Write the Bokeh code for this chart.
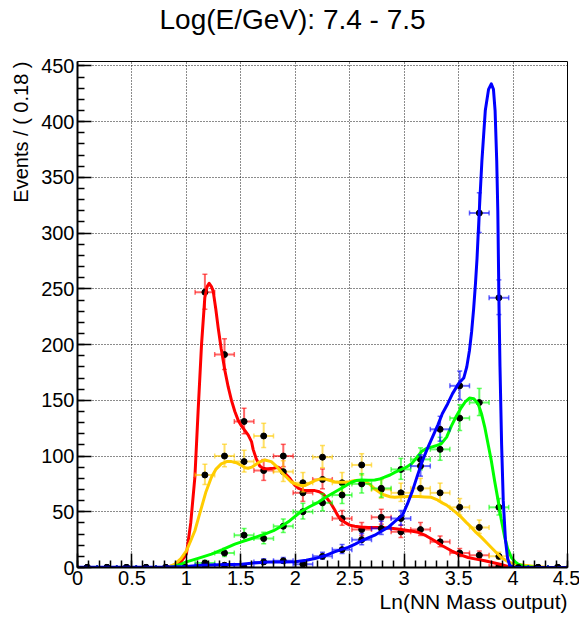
import numpy as np
from bokeh.plotting import figure
from bokeh.models import FixedTicker, Range1d, ColumnDataSource, Title
from bokeh.embed import file_html
from bokeh.resources import INLINE

# ---------------- data ----------------
title_text = "Log(E/GeV): 7.4 - 7.5"
x_axis_title = "Ln(NN Mass output)"
y_axis_title = "Events / ( 0.18 )"

bin_centers = [0.09, 0.27, 0.45, 0.63, 0.81, 0.99, 1.17, 1.35, 1.53, 1.71,
               1.89, 2.07, 2.25, 2.43, 2.61, 2.79, 2.97, 3.15, 3.33, 3.51,
               3.69, 3.87, 4.05, 4.23, 4.41]
bin_half_width = 0.09

counts_red = [0, 0, 0, 0, 0, 0, 247, 191, 131, 87, 100, 67, 79, 44, 34, 45,
              32, 34, 23, 13, 11, 1, 0, 0, 0]
counts_yellow = [0, 0, 0, 0, 0, 0, 83, 100, 95, 118, 86, 76, 99, 76, 92, 70,
                 67, 71, 67, 54, 36, 10, 0, 0, 0]
counts_green = [0, 0, 0, 0, 0, 0, 4, 13, 29, 26, 37, 50, 58, 65, 75, 71,
                88, 97, 106, 134, 148, 54, 0, 0, 0]
counts_blue = [0, 0, 0, 0, 0, 0, 2, 2, 0, 5, 6, 3, 10, 16, 25, 35,
               44, 91, 124, 163, 318, 242, 0, 0, 0]

curve_red_x = [0.0, 0.8, 0.9, 0.95, 1.0, 1.04, 1.078, 1.108, 1.139, 1.169, 1.19,
               1.209, 1.23, 1.246, 1.27, 1.292, 1.32, 1.353, 1.384, 1.414, 1.445,
               1.476, 1.506, 1.536, 1.567, 1.598, 1.613, 1.64, 1.674, 1.71, 1.75,
               1.80, 1.843, 1.873, 1.90, 1.95, 1.995, 2.03, 2.087, 2.18, 2.22,
               2.256, 2.30, 2.33, 2.36, 2.39, 2.42, 2.455, 2.50, 2.546, 2.60,
               2.67, 2.75, 2.82, 2.90, 2.975, 3.05, 3.128, 3.20, 3.28, 3.35,
               3.434, 3.51, 3.587, 3.66, 3.74, 3.82, 3.89, 3.95, 4.0, 4.1, 4.5]
curve_red_y = [0, 0, 2, 5, 12, 40, 81, 141, 200, 242, 252,
               255, 252, 248, 232, 215, 196, 177, 162, 150, 140,
               132, 127, 123, 119, 113, 106, 98, 91, 88.5, 88.5,
               89, 90, 88, 85, 80, 74, 71, 69, 69, 68,
               66, 61, 57, 52, 46.6, 43, 40.5, 38, 37, 36.3,
               36, 35.8, 35.6, 35, 34, 33, 31.6, 28.5, 24, 19.5,
               15, 11.5, 9, 7.5, 6, 4.2, 2.7, 1, 0.2, 0, 0]

curve_yellow_x = [0.0, 0.8, 0.85, 0.894, 0.95, 1.0, 1.04, 1.078, 1.11, 1.139, 1.18,
                  1.23, 1.27, 1.32, 1.37, 1.414, 1.46, 1.506, 1.54, 1.567, 1.60,
                  1.63, 1.66, 1.72, 1.78, 1.83, 1.873, 1.92, 1.965, 2.026, 2.06,
                  2.087, 2.13, 2.18, 2.23, 2.27, 2.32, 2.36, 2.41, 2.455, 2.50,
                  2.546, 2.60, 2.638, 2.68, 2.73, 2.78, 2.82, 2.87, 2.914, 2.975,
                  3.05, 3.128, 3.19, 3.25, 3.30, 3.34, 3.39, 3.434, 3.48, 3.526,
                  3.57, 3.618, 3.66, 3.71, 3.76, 3.80, 3.85, 3.89, 3.94, 3.985,
                  4.05, 4.11, 4.2, 4.3, 4.4, 4.5]
curve_yellow_y = [0, 0, 1, 3, 8, 15, 24, 33, 44, 54, 68,
                  81, 88, 93, 95, 95, 94, 91.5, 89.5, 89, 90,
                  92, 94, 96.5, 95, 90.5, 85.4, 81, 76.5, 74, 73.5,
                  73.5, 75.5, 78, 79.5, 79.5, 78, 77, 76.5, 76.5, 77,
                  78, 78, 77.5, 75, 70.5, 67, 65, 63.5, 63, 63.5,
                  63.8, 63.6, 63.3, 63, 61, 58.5, 56, 52.6, 49, 45,
                  40.5, 36, 31.5, 27, 22, 18, 13, 9, 6, 4,
                  2.8, 2, 1, 0.3, 0, 0]

curve_green_x = [0.0, 0.85, 0.89, 0.95, 1.0, 1.1, 1.23, 1.33, 1.445, 1.506, 1.60,
                 1.69, 1.72, 1.80, 1.873, 1.95, 2.05, 2.13, 2.21, 2.28, 2.36,
                 2.44, 2.516, 2.56, 2.608, 2.67, 2.73, 2.78, 2.82, 2.87, 2.914,
                 2.975, 3.02, 3.067, 3.11, 3.159, 3.20, 3.25, 3.30, 3.34, 3.39,
                 3.434, 3.48, 3.526, 3.56, 3.60, 3.64, 3.68, 3.71, 3.74, 3.77,
                 3.80, 3.83, 3.863, 3.89, 3.924, 3.95, 3.985, 4.02, 4.047, 4.1,
                 4.2, 4.3, 4.5]
curve_green_y = [0, 0, 1, 3, 5, 8, 12, 16, 21, 23, 26,
                 29, 30, 33, 37, 42, 50, 54.5, 58.5, 63, 67.5,
                 72, 76.5, 78, 78.6, 78.3, 78.5, 79.5, 81, 83, 85.4,
                 88, 90, 93, 98, 104, 106.5, 108, 109.5, 111, 117,
                 127, 136, 143.7, 148.5, 152, 151.5, 146.7, 138, 126, 111,
                 96, 78, 60, 44, 27, 17, 9, 5, 3, 1,
                 0.2, 0, 0]

curve_blue_x = [0.0, 0.8, 1.0, 1.14, 1.3, 1.506, 1.62, 1.75, 1.9, 2.0, 2.1,
                2.18, 2.27, 2.36, 2.42, 2.485, 2.55, 2.61, 2.67, 2.73, 2.79,
                2.853, 2.91, 2.985, 3.03, 3.077, 3.12, 3.169, 3.21, 3.26, 3.31,
                3.35, 3.40, 3.444, 3.50, 3.547, 3.575, 3.60, 3.62, 3.638, 3.655,
                3.669, 3.69, 3.714, 3.745, 3.775, 3.80, 3.82, 3.835, 3.85, 3.86,
                3.87, 3.88, 3.895, 3.91, 3.93, 3.95, 3.97, 4.0, 4.1, 4.5]
curve_blue_y = [0.3, 0.5, 1, 2, 2.5, 3, 4, 5, 5, 5.2, 6.5,
                8, 10.5, 14, 16, 18, 21, 24, 26.5, 29, 32.5,
                36, 41, 47, 57, 69, 82, 96, 106, 117, 128,
                138, 147, 156, 165, 170, 180, 195, 212, 232, 255,
                277, 320, 365, 410, 429, 434, 429, 410, 365, 320,
                242, 180, 110, 60, 25, 8, 2, 0.3, 0, 0]

x_ticks = [0, 0.5, 1, 1.5, 2, 2.5, 3, 3.5, 4, 4.5]
x_tick_labels = ["0", "0.5", "1", "1.5", "2", "2.5", "3", "3.5", "4", "4.5"]
y_ticks = [0, 50, 100, 150, 200, 250, 300, 350, 400, 450]
y_tick_labels = ["0", "50", "100", "150", "200", "250", "300", "350", "400", "450"]

series = [
    (counts_red, curve_red_x, curve_red_y, "#ff0000"),
    (counts_yellow, curve_yellow_x, curve_yellow_y, "#ffcc00"),
    (counts_green, curve_green_x, curve_green_y, "#00ff00"),
    (counts_blue, curve_blue_x, curve_blue_y, "#0000ff"),
]

# ---------------- figure ----------------
FONT = "Liberation Sans"
p = figure(x_range=Range1d(0, 4.5), y_range=Range1d(0, 454),
           frame_width=490, frame_height=506,
           min_border_left=75, min_border_right=13, min_border_top=61, min_border_bottom=51,
           output_backend="svg", toolbar_location=None)
p.background_fill_color = "white"
p.border_fill_color = "white"
p.outline_line_color = "black"
p.outline_line_width = 1
p.outline_line_alpha = 1

minor_x = [round(i * 0.1, 1) for i in range(46)]
minor_y = list(range(0, 455, 10))
p.xaxis.ticker = FixedTicker(ticks=x_ticks, minor_ticks=minor_x)
p.yaxis.ticker = FixedTicker(ticks=y_ticks, minor_ticks=minor_y)
p.xaxis.major_label_overrides = {float(t): l for t, l in zip(x_ticks, x_tick_labels)}
p.yaxis.major_label_overrides = {float(t): l for t, l in zip(y_ticks, y_tick_labels)}

for ax in (p.xaxis[0], p.yaxis[0]):
    ax.axis_line_width = 2
    ax.axis_line_color = "black"
    ax.major_tick_in = 14
    ax.major_tick_out = 0
    ax.minor_tick_in = 7
    ax.minor_tick_out = 0
    ax.major_tick_line_width = 1.5
    ax.minor_tick_line_width = 1.5
    ax.major_tick_line_color = "black"
    ax.minor_tick_line_color = "black"
    ax.major_label_text_font = FONT
    ax.major_label_text_font_size = "20px"
    ax.major_label_text_color = "black"
p.xaxis.major_label_standoff = 3
p.yaxis.major_label_standoff = 3

p.xgrid.ticker = FixedTicker(ticks=x_ticks)
p.ygrid.ticker = FixedTicker(ticks=y_ticks)
for g in (p.xgrid[0], p.ygrid[0]):
    g.grid_line_color = "black"
    g.grid_line_dash = "1 2"
    g.grid_line_width = 1
    g.grid_line_alpha = 0.9

# ---------------- data + curves ----------------
xc = np.array(bin_centers)
for counts, cx, cy, col in series:
    n = np.array(counts, dtype=float)
    s = np.sqrt(n + 0.25)
    hi = np.where(n > 0, n + s + 0.5, 1.15)
    lo = np.where(n > 0, n - (s - 0.5), 0.0)
    src = ColumnDataSource(dict(x=xc, y=n, lo=lo, hi=hi,
                                xl=xc - bin_half_width, xr=xc + bin_half_width))
    p.segment(x0="x", y0="lo", x1="x", y1="hi", source=src,
              line_color=col, line_width=2, line_alpha=0.6)
    p.segment(x0="xl", y0="y", x1="xr", y1="y", source=src,
              line_color=col, line_width=2, line_alpha=0.6)
    p.scatter(x="x", y="lo", source=src, marker="dash", size=5,
              line_color=col, line_width=1.5, line_alpha=0.6)
    p.scatter(x="x", y="hi", source=src, marker="dash", size=5,
              line_color=col, line_width=1.5, line_alpha=0.6)
    p.scatter(x="xl", y="y", source=src, marker="dash", size=5, angle=np.pi / 2,
              line_color=col, line_width=1.5, line_alpha=0.6)
    p.scatter(x="xr", y="y", source=src, marker="dash", size=5, angle=np.pi / 2,
              line_color=col, line_width=1.5, line_alpha=0.6)
    p.scatter(x="x", y="y", source=src, marker="circle", size=6,
              fill_color="black", line_color="black")
    p.line(cx, cy, line_color=col, line_width=3, line_join="round")

# ---------------- texts ----------------
# spacer panel between frame and title (pushes the title upward)
p.add_layout(Title(text=" ", standoff=24, text_font=FONT, text_font_size="1px"), "above")
p.add_layout(Title(text=title_text, align="left", offset=82, standoff=0,
                   text_font=FONT, text_font_size="28px", text_font_style="normal",
                   text_color="black"), "above")
p.add_layout(Title(text=x_axis_title, align="right", standoff=0,
                   text_font=FONT, text_font_size="21px", text_font_style="normal",
                   text_color="black"), "below")
p.add_layout(Title(text=y_axis_title, align="right", standoff=14,
                   text_font=FONT, text_font_size="20px", text_font_style="normal",
                   text_color="black"), "left")

open("out.html", "w").write(file_html(p, INLINE))
